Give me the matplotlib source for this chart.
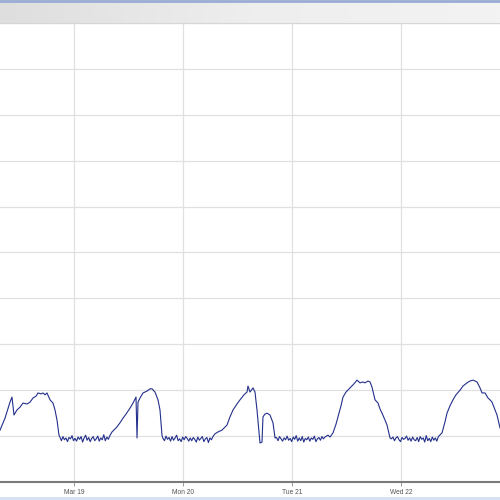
import matplotlib
matplotlib.use("Agg")
import matplotlib.pyplot as plt
import numpy as np
import pandas as pd

# heures depuis 2017-03-18 00:00 et valeurs
active_hours = [
    7.71, 8.81, 9.91, 10.35, 10.79, 11.45, 12.11, 12.77, 13.66, 14.32, 14.98, 15.64,
    16.08, 16.74, 17.18, 17.62, 18.06, 18.72, 19.38, 19.82, 20.26, 20.70,
    32.37, 33.47, 34.13, 34.79, 35.46, 36.34, 37.00, 37.66, 37.88, 38.10, 38.54,
    39.20, 40.08, 40.74, 41.18, 41.84, 42.50, 42.94, 43.38,
    55.05, 55.71, 56.59, 57.69, 58.36, 59.02, 59.90, 60.56, 61.44, 62.10, 62.32,
    62.76, 63.42, 63.86, 64.30, 64.74, 64.96, 65.40, 65.62, 66.06, 66.50, 67.16,
    67.82, 68.27,
    80.38, 81.04, 81.70, 82.14, 82.80, 83.24, 83.90, 84.78, 85.66, 86.32, 86.98,
    87.64, 88.08, 88.74, 89.18, 89.62, 90.29, 90.95, 91.39, 91.83, 92.49, 92.93, 93.59,
    105.04, 105.70, 106.14, 106.80, 107.46, 108.12, 109.00, 109.66, 110.54, 111.20,
    111.86, 112.75, 113.41, 113.85, 114.51, 115.17, 115.61, 116.05, 116.71, 117.15, 117.81,
]
active_values = [
    11.3, 13.9, 17.4, 18.5, 14.6, 15.7, 16.3, 17.2, 17.0, 17.4, 18.3, 18.7,
    19.4, 19.2, 19.4, 19.0, 19.4, 17.9, 17.2, 15.7, 13.5, 10.2,
    10.9, 12.0, 12.9, 13.9, 14.8, 16.1, 17.2, 18.5, 9.6, 17.4, 18.3,
    19.4, 19.8, 20.3, 20.3, 19.6, 17.9, 15.7, 10.2,
    10.5, 10.9, 11.3, 12.4, 14.2, 15.7, 17.0, 17.9, 19.0, 19.6, 20.9,
    19.6, 20.5, 19.6, 15.7, 10.9, 8.5, 8.7, 14.2, 14.8, 15.0, 14.6,
    12.9, 9.6,
    9.8, 10.7, 12.6, 14.2, 16.6, 18.5, 19.6, 20.5, 21.4, 22.2, 21.6,
    21.8, 21.6, 22.0, 21.8, 20.7, 17.9, 17.2, 15.9, 15.0, 13.5, 12.4, 9.6,
    10.7, 13.1, 15.0, 16.6, 17.9, 19.0, 20.0, 20.9, 21.6, 22.0,
    22.2, 21.8, 20.5, 19.4, 19.4, 18.3, 17.9, 17.4, 15.7, 14.6, 11.8,
]

# périodes calmes (échantillons toutes les 20 min)
quiet_starts = [20.9, 43.6, 68.6, 93.9]
quiet_values = [
    [9.8, 9.0, 9.9, 9.2, 9.6, 8.8, 9.7, 9.4, 10.1, 9.0, 9.5, 8.9, 9.8, 9.3, 9.9, 8.7, 9.6,
     10.2, 9.1, 9.7, 8.8, 9.5, 9.9, 9.0, 9.4, 10.0, 8.9, 9.6, 9.2, 10.3, 9.0, 9.8, 9.3, 10.1],
    [9.5, 9.0, 10.0, 9.3, 9.7, 8.9, 9.9, 9.1, 9.6, 10.2, 9.0, 9.4, 8.8, 9.8, 9.2, 9.9, 9.5,
     8.9, 9.6, 9.0, 9.7, 9.3, 8.7, 9.8, 9.1, 9.5, 9.9, 8.8, 9.4, 9.7, 8.6, 9.6, 9.2, 9.9],
    [9.7, 9.0, 9.9, 9.4, 8.9, 9.6, 9.2, 10.0, 9.1, 9.5, 8.8, 9.8, 9.3, 10.1, 8.9, 9.6, 9.0,
     9.9, 8.7, 9.5, 9.2, 9.8, 8.9, 9.6, 9.3, 10.0, 8.8, 9.4, 9.7, 9.1, 9.9, 9.4, 9.8, 10.0, 10.2],
    [9.4, 9.8, 9.0, 9.6, 9.9, 9.2, 8.8, 9.7, 9.3, 9.5, 10.0, 9.1, 9.6, 8.9, 9.8, 9.2, 9.0,
     9.7, 8.8, 9.9, 9.3, 9.6, 8.7, 10.1, 9.0, 9.5, 8.8, 9.8, 9.1, 9.6, 8.9, 9.9],
]
quiet_step = 1 / 3

tick_hours = [24, 48, 72, 96]
tick_labels = ["Mar 19", "Mon 20", "Tue 21", "Wed 22"]

hours = list(active_hours)
values = list(active_values)
for start, vals in zip(quiet_starts, quiet_values):
    hours += [start + i * quiet_step for i in range(len(vals))]
    values += vals
order = np.argsort(hours)
t0 = pd.Timestamp("2017-03-18")
times = np.array([t0 + pd.Timedelta(hours=h) for h in np.array(hours)[order]])
vals = np.array(values)[order]

fig = plt.figure(figsize=(5, 5), dpi=100)
fig.patch.set_facecolor("white")

# bandeau du haut
ban = fig.add_axes([0, 0.954, 1, 0.046])
grad = np.linspace(0, 1, 256).reshape(1, -1)
ban.imshow(grad, aspect="auto", cmap=matplotlib.colors.LinearSegmentedColormap.from_list(
    "b", ["#dedede", "#eeeeee", "#f3f3f3"]), extent=[0, 1, 0, 1])
ban.axhline(0.97, color="#9aabd4", lw=2)
ban.set_xlim(0, 1)
ban.set_ylim(0, 1)
ban.axis("off")

# bande bleue du bas
strip = fig.add_axes([0, 0, 1, 0.007])
strip.set_facecolor("#d6e1f1")
strip.set_xticks([])
strip.set_yticks([])
for s in strip.spines.values():
    s.set_visible(False)

ax = fig.add_axes([0, 0.036, 1, 0.918])
ax.plot(times, vals, color="#23308c", lw=0.8)
ax.set_xlim(t0 + pd.Timedelta(hours=7.71), t0 + pd.Timedelta(hours=117.81))
ax.set_ylim(0, 100)
ax.set_yticks(np.arange(0, 101, 10))
ax.set_yticklabels([])
ax.set_xticks([t0 + pd.Timedelta(hours=h) for h in tick_hours])
ax.set_xticklabels(tick_labels, fontsize=4.8, color="#555555", family="Liberation Sans")
ax.tick_params(axis="y", length=0)
ax.tick_params(axis="x", length=3, width=0.6, color="#888888", pad=2)
ax.grid(True, color="#e0e0e0", lw=0.9)
for side in ["left", "right"]:
    ax.spines[side].set_visible(False)
ax.spines["top"].set_color("#d6d6d6")
ax.spines["bottom"].set_color("#7a7a7a")
ax.spines["bottom"].set_linewidth(1.5)

fig.savefig("out.png", dpi=100)
